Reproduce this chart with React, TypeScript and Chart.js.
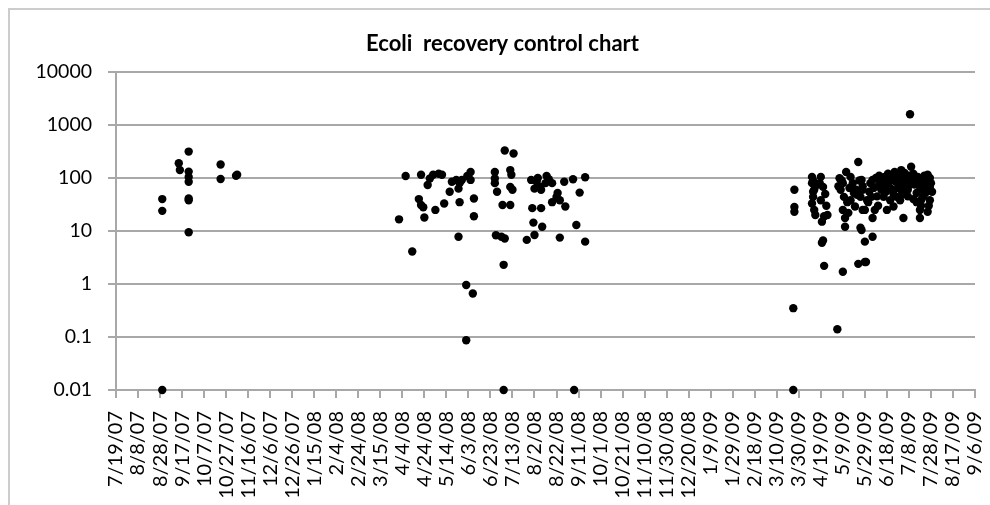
import { useEffect, useRef } from 'react';
import { Chart, registerables } from 'chart.js';

Chart.register(...registerables);

const chartTitle = 'Ecoli  recovery control chart';

// x axis: days since 7/19/07, one tick every 20 days
const xTickLabels = [
  '7/19/07', '8/8/07', '8/28/07', '9/17/07', '10/7/07', '10/27/07', '11/16/07', '12/6/07',
  '12/26/07', '1/15/08', '2/4/08', '2/24/08', '3/15/08', '4/4/08', '4/24/08', '5/14/08',
  '6/3/08', '6/23/08', '7/13/08', '8/2/08', '8/22/08', '9/11/08', '10/1/08', '10/21/08',
  '11/10/08', '11/30/08', '12/20/08', '1/9/09', '1/29/09', '2/18/09', '3/10/09', '3/30/09',
  '4/19/09', '5/9/09', '5/29/09', '6/18/09', '7/8/09', '7/28/09', '8/17/09', '9/6/09',
];
const xTickDays = [
  0, 20, 40, 60, 80, 100, 120, 140, 160, 180, 200, 220, 240, 260, 280, 300, 320, 340, 360, 380,
  400, 420, 440, 460, 480, 500, 520, 540, 560, 580, 600, 620, 640, 660, 680, 700, 720, 740, 760, 780,
];

const yTickValues = [0.01, 0.1, 1, 10, 100, 1000, 10000];
const yTickLabels = ['0.01', '0.1', '1', '10', '100', '1000', '10000'];

// 2007 samples (day offset, recovery)
const day2007 = [42, 42, 42, 57, 58, 66, 66, 66, 66, 66, 66, 66, 95, 95, 109, 110];
const rec2007 = [40, 24, 0.01, 190, 141, 315, 132, 105, 85, 41, 38, 9.5, 180, 96, 110, 115];

// 2008 samples
const day2008 = [
  257, 263, 269, 277, 275, 277, 279, 280, 283, 285, 288, 293, 296, 290, 298, 303, 305, 309, 312, 311,
  314, 312, 311, 318, 324, 318, 322, 322, 325, 325, 319,
  344, 344, 344, 346, 345, 350, 353, 352, 352, 353, 361, 358, 359, 358, 360, 351, 358, 373, 380,
  378, 386, 379, 387, 377, 382, 385, 390, 386, 393, 380, 396, 400, 403, 408, 401, 403, 407, 415, 416,
  418, 421, 426, 426, 391, 383, 396,
];
const rec2008 = [
  16.6, 109, 4.1, 115, 40, 31, 28, 18, 74, 98, 115, 120, 115, 25, 33, 55, 85, 92, 80, 63,
  92, 35, 7.8, 0.96, 0.66, 0.087, 130, 92, 41, 19, 109,
  130, 98, 80, 55, 8.3, 7.8, 7.2, 2.3, 0.01, 330, 290, 141, 115, 68, 60, 31, 31, 6.8, 8.4,
  27, 27, 14.4, 12, 92, 85, 68, 80, 60, 95, 63, 35, 44, 38, 29, 52, 7.5, 85, 95, 0.01,
  13, 53, 103, 6.3, 109, 100, 80,
];

// 2009 samples
const day2009 = [
  616, 616, 616, 615, 615,
  632, 633, 632, 634, 633, 632, 634, 635,
  640, 642, 640, 643, 641, 646, 641, 642, 643, 639, 644,
  655, 660,
  657, 660, 658, 661, 660, 662, 663, 662, 656, 664,
  674, 667, 669, 672, 667, 671, 676, 665, 676, 674, 680, 680, 678, 670, 675, 678,
  677, 678, 682, 680, 685, 687, 686, 687, 689, 677, 687, 681,
  694, 698, 701, 704, 707, 710, 713, 716, 697, 703, 700, 706, 709, 712, 715, 695, 704, 713, 718,
  722, 721,
  728, 730, 731, 730, 730, 737, 739, 739, 737, 735, 727,
  690, 692, 696, 700, 705, 708, 711, 714, 717, 720, 723, 725, 726, 733, 736, 740, 719, 724, 733, 738,
  684, 688, 691, 693, 697, 699, 702, 703, 706, 708, 710, 712, 714, 716, 718, 719, 721, 724, 727, 729,
  732, 734, 736, 739, 741, 731, 727, 683, 692, 635, 633, 645, 659, 666, 673,
];
const rec2009 = [
  60, 28.5, 23, 0.35, 0.01,
  105, 90, 80, 60, 44, 33, 25, 20,
  105, 68, 38, 19, 15, 20, 6.0, 6.6, 2.2, 80, 50,
  0.14, 1.7,
  99, 80, 60, 44, 25, 17.6, 130, 12, 70, 35,
  200, 105, 80, 60, 38, 29, 44, 22, 11.5, 2.4, 2.6, 6.3, 25, 52, 90, 70,
  92, 60, 38, 25, 80, 92, 44, 17.6, 25, 10.4, 7.8, 2.6,
  80, 105, 120, 92, 130, 120, 141, 105, 44, 38, 25, 29, 44, 38, 17.6, 60, 60, 60, 80,
  163, 1600,
  105, 68, 38, 25, 17.6, 115, 68, 38, 23, 52, 52,
  100, 70, 90, 75, 110, 85, 95, 75, 65, 110, 90, 75, 100, 85, 95, 80, 45, 40, 45, 30,
  55, 65, 45, 110, 70, 55, 95, 65, 50, 100, 65, 90, 50, 125, 95, 60, 75, 120, 80, 95,
  60, 110, 70, 100, 55, 30, 35, 35, 30, 70, 55, 30, 90, 65, 48,
];

export default function App() {
  const ref = useRef<HTMLCanvasElement>(null);

  useEffect(() => {
    const days = [...day2007, ...day2008, ...day2009];
    const vals = [...rec2007, ...rec2008, ...rec2009];
    const gridColor = '#a8a8a8';
    const chart = new Chart(ref.current as HTMLCanvasElement, {
      type: 'scatter',
      data: {
        datasets: [
          {
            data: days.map((d, i) => ({ x: d, y: vals[i] })),
            backgroundColor: '#000',
            borderColor: '#000',
            borderWidth: 0,
            pointRadius: 4.2,
            pointHoverRadius: 4.2,
            clip: false as any,
          },
        ],
      },
      options: {
        animation: false,
        responsive: false,
        devicePixelRatio: 1,
        layout: { padding: { left: 30, right: 15, top: 0, bottom: 0 } },
        plugins: {
          legend: { display: false },
          tooltip: { enabled: false },
          title: {
            display: true,
            text: chartTitle,
            color: '#000',
            font: { family: 'Lato', size: 22, weight: 'bold', lineHeight: 1.2 },
            padding: { top: 31, bottom: 14.6 },
          },
        },
        scales: {
          x: {
            type: 'linear',
            min: 0,
            max: 780,
            afterBuildTicks: (s: any) => {
              s.ticks = xTickDays.map((v) => ({ value: v }));
            },
            afterFit: (s: any) => {
              s.height = 115;
              s.paddingLeft = 0;
              s.paddingRight = 0;
            },
            grid: {
              drawOnChartArea: false,
              drawTicks: true,
              tickLength: 8,
              color: gridColor,
              lineWidth: 2,
            },
            border: { display: true, color: gridColor, width: 2 },
            ticks: {
              autoSkip: false,
              minRotation: 90,
              maxRotation: 90,
              padding: 13,
              color: '#000',
              font: { family: 'Lato', size: 20 },
              callback: (_v: any, i: number) => xTickLabels[i],
            },
          },
          y: {
            type: 'logarithmic',
            min: 0.01,
            max: 10000,
            afterBuildTicks: (s: any) => {
              s.ticks = yTickValues.map((v) => ({ value: v }));
            },
            afterFit: (s: any) => {
              s.width = 86;
              s.paddingTop = 0;
              s.paddingBottom = 0;
            },
            grid: {
              drawTicks: true,
              tickLength: 8,
              color: gridColor,
              lineWidth: 2,
            },
            border: { display: true, color: gridColor, width: 2 },
            ticks: {
              padding: 16,
              color: '#000',
              font: { family: 'Lato', size: 19.5 },
              callback: (_v: any, i: number) => yTickLabels[i],
            },
          },
        },
      } as any,
    });
    return () => chart.destroy();
  }, []);

  return (
    <div
      style={{
        position: 'fixed',
        left: 0,
        top: 0,
        width: 990,
        height: 505,
        overflow: 'hidden',
        background: '#fff',
      }}
    >
      <div
        style={{
          position: 'absolute',
          left: 8,
          top: 8,
          width: 1010,
          height: 600,
          border: '2px solid #cccccc',
          boxSizing: 'border-box',
        }}
      />
      <canvas
        ref={ref}
        width={990}
        height={505}
        style={{ position: 'absolute', left: 0, top: 0 }}
      />
    </div>
  );
}
